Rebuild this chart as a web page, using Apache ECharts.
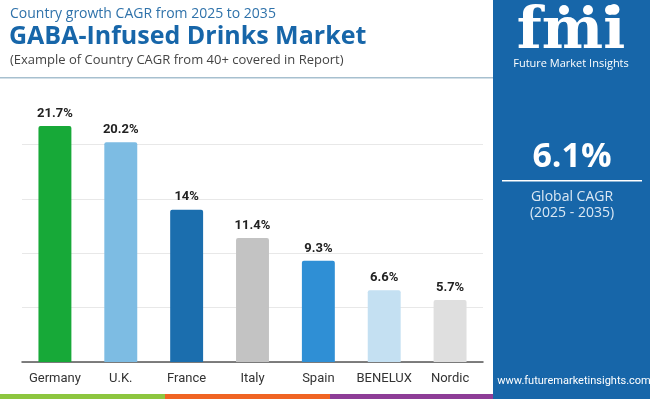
<!DOCTYPE html>
<html>
<head>
<meta charset="utf-8">
<script src="https://cdn.jsdelivr.net/npm/echarts@6/dist/echarts.min.js"></script>
<style>
  html, body { margin: 0; padding: 0; background: #fff; }
  #main { width: 650px; height: 399px; }
</style>
</head>
<body>
<div id="main"></div>
<script>
// 国家 CAGR 数据
const countries = ["Germany", "U.K.", "France", "Italy", "Spain", "BENELUX", "Nordic"];
const cagrValues = [21.7, 20.2, 14, 11.4, 9.3, 6.6, 5.7];
const barColors = ["#17a938", "#7dbce3", "#1b6eae", "#c3c3c3", "#2f8fd5", "#c4e0f2", "#dfdfdf"];
const globalCagr = "6.1%";

const chartDom = document.getElementById("main");
const myChart = echarts.init(chartDom);

const gridColor = "#e8e8e8";
const panelBlue = "#1766a9";

const option = {
  animation: false,
  grid: { left: 22, right: 167, top: 90, bottom: 37 },
  xAxis: {
    type: "category",
    data: countries,
    axisLine: { lineStyle: { color: "#555", width: 1.5 } },
    axisTick: { show: false },
    axisLabel: {
      interval: 0,
      color: "#333",
      fontFamily: "Roboto",
      fontSize: 13,
      margin: 10
    }
  },
  yAxis: {
    type: "value",
    min: 0,
    max: 25,
    interval: 5,
    axisLabel: { show: false },
    axisLine: { show: false },
    axisTick: { show: false },
    splitLine: {
      lineStyle: {
        // 最上面一条不显示
        color: [gridColor, gridColor, gridColor, gridColor, gridColor, "rgba(0,0,0,0)"]
      }
    }
  },
  series: [
    {
      type: "bar",
      barWidth: "50%",
      data: cagrValues.map((v, i) => ({
        value: v,
        itemStyle: { color: barColors[i], borderRadius: [2, 2, 0, 0] }
      })),
      label: {
        show: true,
        position: "top",
        distance: 6,
        color: "#222",
        fontFamily: "Roboto",
        fontWeight: "bold",
        fontSize: 13,
        formatter: (p) => p.value + "%"
      }
    }
  ],
  graphic: [
    // 标题区
    {
      type: "text", left: 10, top: 7,
      style: { text: "Country growth CAGR from 2025 to 2035", fill: "#2f72aa", font: "14px 'Open Sans'" }
    },
    {
      type: "text", left: 9, top: 24,
      style: { text: "GABA-Infused Drinks Market", fill: "#1766a9", font: "bold 25px 'Open Sans'" }
    },
    {
      type: "text", left: 10, top: 54,
      style: { text: "(Example of Country CAGR from 40+ covered in Report)", fill: "#444", font: "13px 'Open Sans'" }
    },
    {
      type: "rect", shape: { x: 0, y: 77, width: 493, height: 1.5 },
      style: { fill: "#a7c0cf" }
    },
    // 右侧蓝色面板
    {
      type: "rect", shape: { x: 493, y: 0, width: 157, height: 399 },
      style: { fill: panelBlue }
    },
    {
      type: "text", x: 571, y: 33,
      style: { text: "fmi", fill: "#fff", font: "bold 58px 'DejaVu Serif'", align: "center", verticalAlign: "middle" }
    },
    {
      type: "circle", shape: { cx: 564, cy: 10, r: 5 }, style: { fill: "#fff" }
    },
    {
      type: "circle", shape: { cx: 588, cy: 10, r: 5 }, style: { fill: "#fff" }
    },
    {
      type: "circle", shape: { cx: 610, cy: 10, r: 5 }, style: { fill: "#fff" }
    },
    {
      type: "text", x: 571, y: 64,
      style: { text: "Future Market Insights", fill: "#fff", font: "11px 'Open Sans'", align: "center", verticalAlign: "middle" }
    },
    {
      type: "text", x: 572, y: 157,
      style: { text: globalCagr, fill: "#fff", font: "bold 34px 'Open Sans'", align: "center", verticalAlign: "middle" }
    },
    {
      type: "rect", shape: { x: 502, y: 180, width: 140, height: 1.5 },
      style: { fill: "#fff" }
    },
    {
      type: "text", x: 572, y: 197,
      style: { text: "Global CAGR", fill: "#dbe8f4", font: "14px 'Open Sans'", align: "center", verticalAlign: "middle" }
    },
    {
      type: "text", x: 572, y: 213,
      style: { text: "(2025 - 2035)", fill: "#dbe8f4", font: "14px 'Open Sans'", align: "center", verticalAlign: "middle" }
    },
    {
      type: "text", x: 574, y: 381,
      style: { text: "www.futuremarketinsights.com", fill: "#fff", font: "11px 'Roboto'", align: "center", verticalAlign: "middle" }
    },
    // 底部彩条
    { type: "rect", shape: { x: 0, y: 394, width: 165, height: 5 }, style: { fill: "#8dc63f" } },
    { type: "rect", shape: { x: 165, y: 394, width: 165, height: 5 }, style: { fill: "#f06423" } },
    { type: "rect", shape: { x: 330, y: 394, width: 163, height: 5 }, style: { fill: "#8e3d97" } }
  ]
};

option && myChart.setOption(option);
</script>
</body>
</html>
